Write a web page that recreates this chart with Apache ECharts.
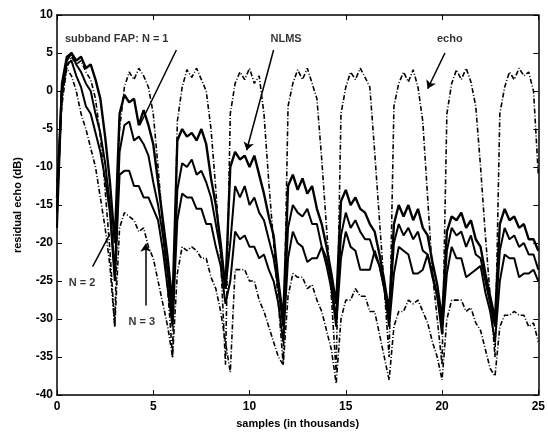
<!DOCTYPE html>
<html>
<head>
<meta charset="utf-8">
<script src="https://cdn.jsdelivr.net/npm/echarts@6/dist/echarts.min.js"></script>
<style>
  html, body { margin: 0; padding: 0; background: #fff; }
  #chart { width: 548px; height: 434px; }
</style>
</head>
<body>
<div id="chart"></div>
<script>
// samples (in thousands), step 0.25
const samples = []
for (let i = 0; i <= 100; i++) samples.push(i / 4)

// echo (dB)
const echo = [
  -15, -1, 3, 4.5, 3.5, 4, 2.5, 1.5, -1, -6, -13, -21, -31,
  -5, 0.5, 2.5, 1.5, 3, 2, 0.5, -3, -10, -18, -26, -35,
  -4, 0.5, 2.8, 1.8, 3, 1.5, 0, -5, -13, -22, -36,
  -3, 1, 2.5, 1.5, 3, 1, 2, -3, -12, -20, -28, -36,
  -2, 1, 2.8, 1.5, 3, 1, -1, -9, -18, -27, -37,
  -3, 0.5, 2.5, 1.5, 3, 1.8, 0.5, -8, -17, -26, -35,
  -2, 1, 2.5, 1.2, 2.8, 0.5, -4, -14, -24, -30, -36,
  -3, 1, 2.8, 1.5, 3, 1.2, -2, -10, -19, -27, -35,
  -3, 0.5, 2.5, 1.5, 3, 2, 2.5, 0, -11
]

// NLMS
const nlms = [
  -14, 0, 4, 5, 4, 4.5, 3, 3.5, 1.5, -1, -6, -12, -20,
  -3, -0.5, -1.5, -1, -4.5, -2.5, -4.5, -7, -12, -17, -22, -28,
  -6.5, -5, -6, -5.5, -6.5, -5, -7, -11.5, -15, -20, -26,
  -10, -8, -9, -8.5, -10, -8.5, -11, -13.5, -16.5, -19, -25, -30,
  -12.5, -11, -13, -11.5, -13.5, -12.5, -15.5, -17.5, -20.5, -24, -28,
  -14.5, -13, -15, -14, -15.5, -16, -17.5, -18.5, -21.5, -25, -29,
  -17.5, -15, -16.5, -15, -17, -15.5, -18, -19, -22.5, -25.5, -30,
  -18.5, -16.5, -17, -16, -18, -17, -19.5, -20.5, -24, -27, -30,
  -17.5, -15.5, -17, -16.5, -18, -17.5, -19.5, -19.5, -21
]

// subband FAP, N = 1
const fap1 = [
  -16, 1, 4.5, 5, 3.5, 2.5, 1, 0, -3, -5.5, -9.5, -15, -24,
  -8, -4.5, -4, -6.5, -6, -7, -8.5, -12, -15, -19, -24, -30,
  -13, -9.5, -10, -9, -11, -10.5, -12, -14, -17.5, -21, -26,
  -20, -12.5, -14, -12.5, -15, -14, -16, -17, -19.5, -22, -26, -31,
  -18, -15, -16, -16.5, -15.5, -17.5, -17.5, -20.5, -22, -25, -30,
  -19, -16, -18, -17, -18.5, -19.5, -19.5, -21.5, -23, -26, -30,
  -20, -17.5, -19, -18, -19.5, -18.5, -21, -21.5, -24, -27, -31,
  -21, -18, -19, -18.5, -20.5, -19, -21.5, -22, -25, -28, -31,
  -21, -18, -19.5, -19, -20.5, -20, -21.5, -21.5, -23.5
]

// subband FAP, N = 2
const fap2 = [
  -18, 0, 3.5, 4, 2, 0.5, -2, -3, -5.5, -8, -11.5, -16, -25,
  -11, -10.5, -10.5, -12.5, -12.5, -14, -14, -15.5, -17, -21, -26, -31,
  -17, -13.5, -14, -14, -15.5, -15.5, -17.5, -17.5, -20.5, -23, -28,
  -25, -18.5, -19.5, -19, -20.5, -20.5, -22, -21.5, -23.5, -25, -28, -33,
  -22, -18.5, -20, -20.5, -22.5, -22, -22, -20.5, -23, -26, -31,
  -22, -18.5, -20.5, -21, -23.5, -23.5, -23.5, -21, -23, -26, -31,
  -24, -20.5, -21, -21.5, -24, -24, -23.5, -21.5, -24.5, -27, -32,
  -24, -20.5, -22, -22, -24.5, -24, -23.5, -23, -26.5, -29, -33,
  -25, -21.5, -22, -22, -24.5, -24, -24, -23.5, -25
]

// subband FAP, N = 3
const fap3 = [
  -12, -2, 3, 2, 0, -3, -5, -7.5, -10, -14, -18, -23, -31,
  -18, -16, -16.5, -17, -18.5, -18, -20.5, -22, -25, -28, -31, -35,
  -24, -20.5, -21, -20.5, -21, -22, -22, -24.5, -26, -29, -33,
  -37, -23.5, -23.5, -23.5, -25, -25, -27.5, -29, -31, -33, -35, -36,
  -27, -24, -24.5, -24.5, -26, -25.5, -27.5, -29, -31.5, -34, -38.5,
  -30, -27.5, -27.5, -26, -27, -27, -29, -29, -32, -35, -38,
  -31, -29, -29, -27.5, -28, -27.5, -29, -30.5, -33, -35, -38,
  -30, -27.5, -27.5, -27.5, -29, -28.5, -30.5, -31.5, -34, -36.5, -37.5,
  -31, -29.5, -29.5, -29, -29.5, -29.5, -31, -30.5, -33
]

// text notes [x, y, text]
const notes = [
  [3.1, 6.8, 'subband FAP: N = 1'],
  [11.9, 6.8, 'NLMS'],
  [20.4, 6.8, 'echo'],
  [1.3, -25.2, 'N = 2'],
  [4.4, -30.4, 'N = 3']
]
// pointer lines [[x1, y1], [x2, y2], arrow?]
const pointers = [
  [[6.2, 5.4], [4.3, -4.5], false],
  [[11.25, 5.4], [9.85, -7.8], true],
  [[20.15, 5.0], [19.25, 0.3], true],
  [[1.85, -23.1], [2.75, -18.8], false],
  [[4.6, -28.2], [4.6, -20.1], true]
]

const zip = ys => samples.map((x, i) => [x, ys[i]])
const dashDot = [5, 2, 1, 2]
const font = 'Liberation Sans, Arial, sans-serif'
const tickLabel = { color: '#000', fontWeight: 'bold', fontSize: 12, fontFamily: font }

function line(name, ys, width, type) {
  return {
    name: name,
    type: 'line',
    data: zip(ys),
    showSymbol: false,
    symbol: 'none',
    silent: true,
    lineStyle: { color: '#000', width: width, type: type }
  }
}

const chart = echarts.init(document.getElementById('chart'))
chart.setOption({
  animation: false,
  backgroundColor: '#fff',
  grid: { left: 57, right: 6, top: 15, bottom: 34 },
  xAxis: [
    {
      type: 'value', min: 0, max: 25, interval: 5,
      axisLine: { onZero: false, lineStyle: { color: '#000', width: 1.5 } },
      axisTick: { inside: true, length: 5, lineStyle: { color: '#000' } },
      axisLabel: Object.assign({ margin: 6 }, tickLabel),
      splitLine: { show: false },
      name: 'samples (in thousands)',
      nameLocation: 'middle',
      nameGap: 20,
      nameTextStyle: { color: '#000', fontWeight: 'bold', fontSize: 11, fontFamily: font }
    },
    {
      type: 'value', min: 0, max: 25, interval: 5, position: 'top',
      axisLine: { onZero: false, lineStyle: { color: '#000', width: 1.5 } },
      axisTick: { inside: true, length: 5, lineStyle: { color: '#000' } },
      axisLabel: { show: false },
      splitLine: { show: false }
    }
  ],
  yAxis: [
    {
      type: 'value', min: -40, max: 10, interval: 5,
      axisLine: { show: true, onZero: false, lineStyle: { color: '#000', width: 1.5 } },
      axisTick: { show: true, inside: true, length: 5, lineStyle: { color: '#000' } },
      axisLabel: Object.assign({ margin: 4 }, tickLabel),
      splitLine: { show: false },
      name: 'residual echo (dB)',
      nameLocation: 'middle',
      nameGap: 34,
      nameRotate: 90,
      nameTextStyle: { color: '#000', fontWeight: 'bold', fontSize: 11, fontFamily: font }
    },
    {
      type: 'value', min: -40, max: 10, interval: 5, position: 'right',
      axisLine: { show: true, onZero: false, lineStyle: { color: '#000', width: 1.5 } },
      axisTick: { show: true, inside: true, length: 5, lineStyle: { color: '#000' } },
      axisLabel: { show: false },
      splitLine: { show: false }
    }
  ],
  series: [
    line('echo', echo, 1.6, dashDot),
    line('NLMS', nlms, 2.4, 'solid'),
    line('N = 1', fap1, 2, 'solid'),
    line('N = 2', fap2, 2, 'solid'),
    line('N = 3', fap3, 1.6, dashDot),
    {
      type: 'scatter',
      data: notes,
      symbolSize: 0,
      silent: true,
      label: {
        show: true,
        position: 'inside',
        formatter: p => p.data[2],
        color: '#000',
        fontWeight: 'bold',
        fontSize: 11,
        fontFamily: font
      },
      markLine: {
        silent: true,
        animation: false,
        label: { show: false },
        lineStyle: { color: '#000', width: 1.5, type: 'solid' },
        symbolSize: 8,
        data: pointers.map(p => [
          { coord: p[0], symbol: 'none' },
          { coord: p[1], symbol: p[2] ? 'arrow' : 'none' }
        ])
      }
    }
  ]
})
</script>
</body>
</html>
